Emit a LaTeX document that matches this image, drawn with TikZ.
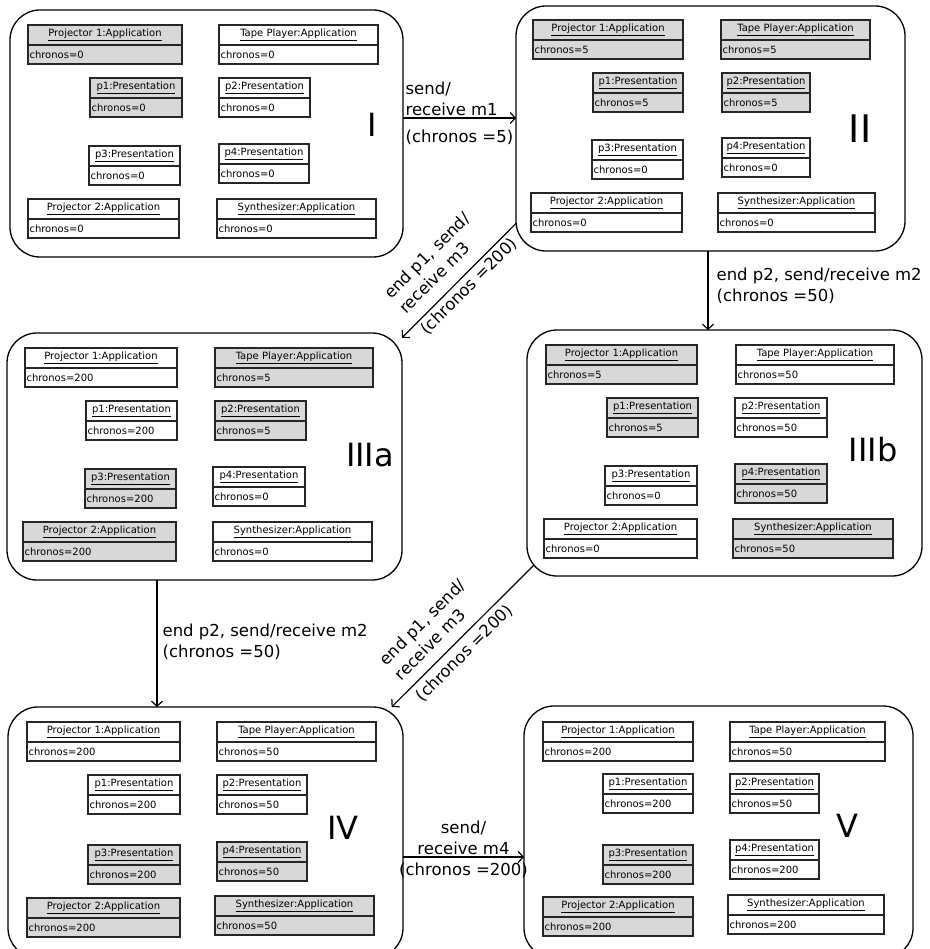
\documentclass[tikz,border=0pt]{standalone}
\usepackage{fontspec}
\setmainfont{DejaVu Sans}
\usetikzlibrary{arrows.meta,positioning}
\definecolor{busygray}{HTML}{D8D8D8}
\tikzset{
  stbox/.style   = {draw, line width=1.3pt, rounded corners=30pt, inner sep=0pt, outer sep=0pt},
  objhead/.style = {draw=black!85, line width=1.5pt, minimum height=20, inner sep=1.5pt,
                    outer sep=0pt, font=\fontsize{10}{11}\selectfont, anchor=north west},
  objval/.style  = {objhead, minimum height=19, anchor=north},
  busy/.style    = {fill=busygray},
  idle/.style    = {fill=white},
  trans/.style   = {line width=1.2pt, -{Straight Barb[length=5pt,width=11pt]}},
  translbl/.style = {font=\fontsize{16.5}{21}\selectfont, inner sep=2pt},
  stnum/.style   = {font=\fontsize{32}{36}\selectfont, inner sep=0pt},
}
% object box: [fill] name, x, y (top left), width, class, attribute
\newcommand{\obj}[7][idle]{%
  \node[objhead,#1,minimum width=#5] (#2) at (#3,#4) {\underline{#6}};
  \node[objval,#1,minimum width=#5] (#2v) at (#2.south) {\makebox[\dimexpr#5pt-3pt\relax][l]{#7}};
}

\begin{document}
\begin{tikzpicture}[x=1pt,y=-1pt]
  \useasboundingbox (0,0) rectangle (929,949);
  \clip (0,0) rectangle (929,949);

  % states
  \node[stbox, minimum width=393, minimum height=247] (I)    at (206.5,133.5) {};
  \node[stbox, minimum width=389, minimum height=245] (II)   at (710.5,128.5) {};
  \node[stbox, minimum width=395, minimum height=247] (IIIa) at (204.5,456.5) {};
  \node[stbox, minimum width=395, minimum height=246] (IIIb) at (724.5,453) {};
  \node[stbox, minimum width=395, minimum height=251] (IV)   at (205.5,832.5) {};
  \node[stbox, minimum width=389, minimum height=252] (V)    at (718.5,832) {};

  \node[stnum] (nI)    at (372,125) {I};
  \node[stnum, font=\fontsize{38}{40}\selectfont] (nII) at (860,129) {II};
  \node[stnum] (nIIIa) at (370,455) {IIIa};
  \node[stnum] (nIIIb) at (873,450) {IIIb};
  \node[stnum] (nIV)   at (343,828) {IV};
  \node[stnum] (nV)    at (847,826) {V};

  % state I
  \obj[busy]{IP1}{28}{25}{154}{Projector 1:Application}{chronos=0}
  \obj{ITP}{219}{25}{159}{Tape Player:Application}{chronos=0}
  \obj[busy]{Ip1}{90}{78}{92}{p1:Presentation}{chronos=0}
  \obj{Ip2}{219}{78}{91}{p2:Presentation}{chronos=0}
  \obj{Ip3}{89}{146}{91}{p3:Presentation}{chronos=0}
  \obj{Ip4}{219}{144}{90}{p4:Presentation}{chronos=0}
  \obj{IP2}{28}{199}{151}{Projector 2:Application}{chronos=0}
  \obj{ISy}{217}{199}{159}{Synthesizer:Application}{chronos=0}

  % state II
  \obj[busy]{IIP1}{533}{20}{150}{Projector 1:Application}{chronos=5}
  \obj[busy]{IITP}{721}{20}{149}{Tape Player:Application}{chronos=5}
  \obj[busy]{IIp1}{593}{73}{90}{p1:Presentation}{chronos=5}
  \obj[busy]{IIp2}{722}{73}{88}{p2:Presentation}{chronos=5}
  \obj{IIp3}{592}{140}{91}{p3:Presentation}{chronos=0}
  \obj{IIp4}{722}{138}{88}{p4:Presentation}{chronos=0}
  \obj{IIP2}{531}{193}{151}{Projector 2:Application}{chronos=0}
  \obj{IISy}{718}{193}{157}{Synthesizer:Application}{chronos=0}

  % state IIIa
  \obj{IIIaP1}{25}{348}{152}{Projector 1:Application}{chronos=200}
  \obj[busy]{IIIaTP}{215}{348}{158}{Tape Player:Application}{chronos=5}
  \obj{IIIap1}{86}{401}{91}{p1:Presentation}{chronos=200}
  \obj[busy]{IIIap2}{215}{401}{91}{p2:Presentation}{chronos=5}
  \obj[busy]{IIIap3}{85}{469}{91}{p3:Presentation}{chronos=200}
  \obj{IIIap4}{213}{467}{92}{p4:Presentation}{chronos=0}
  \obj[busy]{IIIaP2}{23}{522}{153}{Projector 2:Application}{chronos=200}
  \obj{IIIaSy}{213}{522}{159}{Synthesizer:Application}{chronos=0}

  % state IIIb
  \obj[busy]{IIIbP1}{546}{345}{151}{Projector 1:Application}{chronos=5}
  \obj{IIIbTP}{736}{345}{158}{Tape Player:Application}{chronos=50}
  \obj[busy]{IIIbp1}{607}{398}{91}{p1:Presentation}{chronos=5}
  \obj{IIIbp2}{735}{398}{92}{p2:Presentation}{chronos=50}
  \obj{IIIbp3}{605}{466}{92}{p3:Presentation}{chronos=0}
  \obj[busy]{IIIbp4}{735}{464}{92}{p4:Presentation}{chronos=50}
  \obj{IIIbP2}{544}{519}{153}{Projector 2:Application}{chronos=0}
  \obj[busy]{IIIbSy}{733}{519}{160}{Synthesizer:Application}{chronos=50}

  % state IV
  \obj{IVP1}{27}{722}{153}{Projector 1:Application}{chronos=200}
  \obj{IVTP}{217}{722}{159}{Tape Player:Application}{chronos=50}
  \obj{IVp1}{88}{775}{92}{p1:Presentation}{chronos=200}
  \obj{IVp2}{217}{775}{90}{p2:Presentation}{chronos=50}
  \obj[busy]{IVp3}{88}{845}{92}{p3:Presentation}{chronos=200}
  \obj[busy]{IVp4}{217}{842}{90}{p4:Presentation}{chronos=50}
  \obj[busy]{IVP2}{27}{898}{153}{Projector 2:Application}{chronos=200}
  \obj[busy]{IVSy}{215}{896}{159}{Synthesizer:Application}{chronos=50}

  % state V
  \obj{VP1}{543}{722}{150}{Projector 1:Application}{chronos=200}
  \obj{VTP}{730}{722}{155}{Tape Player:Application}{chronos=50}
  \obj{Vp1}{603}{774}{90}{p1:Presentation}{chronos=200}
  \obj{Vp2}{730}{774}{89}{p2:Presentation}{chronos=50}
  \obj[busy]{Vp3}{603}{845}{90}{p3:Presentation}{chronos=200}
  \obj{Vp4}{730}{840}{89}{p4:Presentation}{chronos=200}
  \obj[busy]{VP2}{543}{897}{150}{Projector 2:Application}{chronos=200}
  \obj{VSy}{728}{895}{156}{Synthesizer:Application}{chronos=200}

  % transitions
  \coordinate (t1) at ([shift={(0,-15.5)}]I.east);
  \draw[trans] (t1) -- (t1 -| II.west)
    node[translbl, pos=0, anchor=south west, align=left] (l1a) {send/\\receive m1}
    node[translbl, pos=0, anchor=north west, yshift=-9pt] (l1b) {(chronos =5)};

  \coordinate (t2) at ([shift={(-2.5,0)}]II.south);
  \draw[trans] (t2) -- (t2 |- IIIb.north)
    node[translbl, pos=0.44, anchor=west, align=left, xshift=6pt] (l2) {end p2, send/receive m2\\(chronos =50)};

  \draw[trans] (II.206) -- (IIIa.31);
  \node[translbl, rotate=45, align=left] (l3) at (451,268.7) {end p1, send/\\receive m3\\[9pt](chronos =200)};

  \coordinate (t4) at ([shift={(-47.5,0)}]IIIa.south);
  \draw[trans] (t4) -- (t4 |- IV.north)
    node[translbl, pos=0.49, anchor=west, align=left, xshift=3pt] (l4) {end p2, send/receive m2\\(chronos =50)};

  \coordinate (t5) at ([shift={(7,-11)}]IIIb.south west);
  \draw[trans] (t5) -- (IV.34);
  \node[translbl, rotate=45, align=left] (l5) at (446.5,635.3) {end p1, send/\\receive m3\\[9pt](chronos =200)};

  \coordinate (t6) at ([shift={(0,24.5)}]IV.east);
  \draw[trans] (t6) -- (t6 -| V.west)
    node[translbl, midway, above, align=center] (l6a) {send/\\receive m4}
    node[translbl, midway, below, yshift=-3pt] (l6b) {(chronos =200)};
\end{tikzpicture}
\end{document}
